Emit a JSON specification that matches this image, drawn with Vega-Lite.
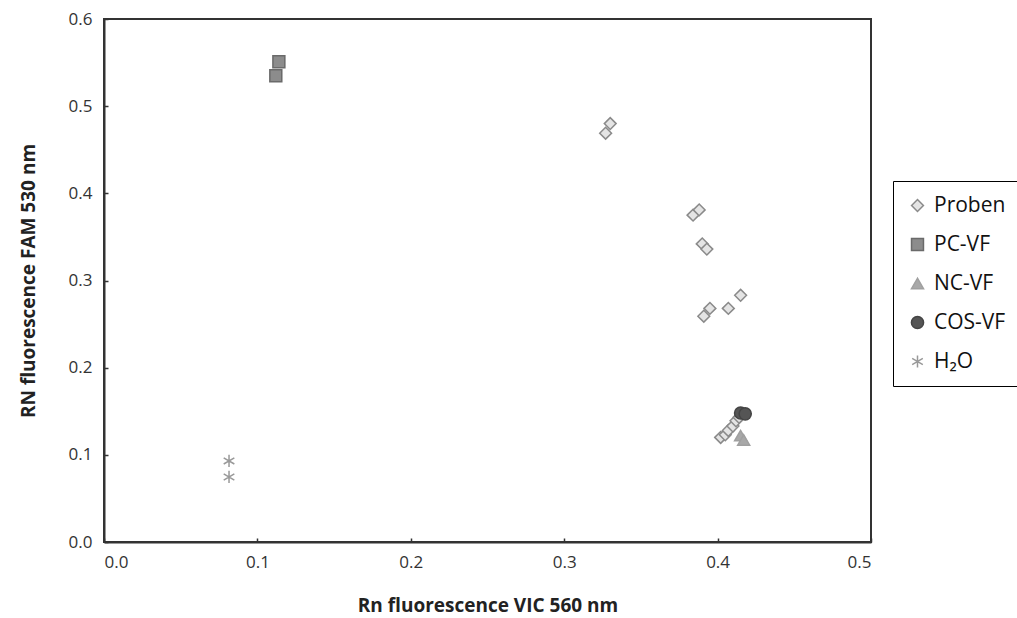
{
  "$schema": "https://vega.github.io/schema/vega-lite/v6.json",
  "autosize": "none",
  "width": 767,
  "height": 523,
  "padding": {"left": 104, "top": 19, "right": 146, "bottom": 76},
  "background": "white",
  "config": {
    "view": {"stroke": "#333333", "strokeWidth": 2},
    "font": "Open Sans"
  },
  "data": {
    "values": [
      {"series": "PC-VF", "vic": 0.114, "fam": 0.551},
      {"series": "PC-VF", "vic": 0.112, "fam": 0.535},
      {"series": "H₂O", "vic": 0.0815, "fam": 0.093},
      {"series": "H₂O", "vic": 0.0815, "fam": 0.0746},
      {"series": "Proben", "vic": 0.327, "fam": 0.469},
      {"series": "Proben", "vic": 0.330, "fam": 0.480},
      {"series": "Proben", "vic": 0.384, "fam": 0.375},
      {"series": "Proben", "vic": 0.388, "fam": 0.381},
      {"series": "Proben", "vic": 0.390, "fam": 0.342},
      {"series": "Proben", "vic": 0.393, "fam": 0.336},
      {"series": "Proben", "vic": 0.391, "fam": 0.259},
      {"series": "Proben", "vic": 0.395, "fam": 0.268},
      {"series": "Proben", "vic": 0.407, "fam": 0.268},
      {"series": "Proben", "vic": 0.415, "fam": 0.283},
      {"series": "Proben", "vic": 0.402, "fam": 0.120},
      {"series": "Proben", "vic": 0.405, "fam": 0.123},
      {"series": "Proben", "vic": 0.407, "fam": 0.128},
      {"series": "Proben", "vic": 0.410, "fam": 0.133},
      {"series": "Proben", "vic": 0.412, "fam": 0.139},
      {"series": "Proben", "vic": 0.414, "fam": 0.143},
      {"series": "COS-VF", "vic": 0.415, "fam": 0.148},
      {"series": "COS-VF", "vic": 0.418, "fam": 0.147},
      {"series": "NC-VF", "vic": 0.415, "fam": 0.122},
      {"series": "NC-VF", "vic": 0.417, "fam": 0.117}
    ]
  },
  "mark": {"type": "point", "filled": false, "strokeWidth": 1.5, "opacity": 1},
  "encoding": {
    "x": {
      "field": "vic", "type": "quantitative",
      "scale": {"domain": [0, 0.5], "nice": false, "zero": true},
      "axis": {
        "title": "Rn fluorescence VIC 560 nm",
        "titleFont": "Open Sans", "titleFontSize": 19, "titleFontWeight": "bold", "titleColor": "#222",
        "titlePadding": 26,
        "values": [0, 0.1, 0.2, 0.3, 0.4, 0.5], "format": ".1f",
        "labelFontSize": 17, "labelColor": "#333", "labelPadding": 16, "labelFont": "Open Sans",
        "grid": false, "domainColor": "#333", "domainWidth": 2,
        "tickSize": -4, "tickColor": "#333", "tickWidth": 1.5
      }
    },
    "y": {
      "field": "fam", "type": "quantitative",
      "scale": {"domain": [0, 0.6], "nice": false},
      "axis": {
        "title": "RN fluorescence FAM 530 nm",
        "titleFont": "Open Sans", "titleFontSize": 19, "titleFontWeight": "bold", "titleColor": "#222",
        "titlePadding": 30,
        "values": [0, 0.1, 0.2, 0.3, 0.4, 0.5, 0.6], "format": ".1f",
        "labelFontSize": 17, "labelColor": "#333", "labelPadding": 16, "labelFont": "Open Sans",
        "grid": false, "domainColor": "#333", "domainWidth": 2,
        "tickSize": -4, "tickColor": "#333", "tickWidth": 1.5
      }
    },
    "size": {
      "field": "series", "type": "nominal",
      "scale": {
        "domain": ["Proben", "PC-VF", "NC-VF", "COS-VF", "H₂O"],
        "range": [140, 150, 100, 70, 170]
      }
    },
    "shape": {
      "field": "series", "type": "nominal",
      "scale": {
        "domain": ["Proben", "PC-VF", "NC-VF", "COS-VF", "H₂O"],
        "range": ["diamond", "square", "triangle-up", "circle", "M0,-1L0,1M-0.87,-0.5L0.87,0.5M-0.87,0.5L0.87,-0.5"]
      },
      "legend": {
        "title": null, "orient": "none", "legendX": 789, "legendY": 162,
        "strokeColor": "black", "padding": 14, "rowPadding": 17,
        "labelFontSize": 21, "labelFont": "Open Sans", "labelColor": "#111",
        "symbolStrokeWidth": 1.5, "labelOffset": 6
      }
    },
    "fill": {
      "field": "series", "type": "nominal",
      "scale": {
        "domain": ["Proben", "PC-VF", "NC-VF", "COS-VF", "H₂O"],
        "range": ["#e4e4e4", "#8c8c8c", "#a8a8a8", "#555555", "#ffffff"]
      }
    },
    "stroke": {
      "field": "series", "type": "nominal",
      "scale": {
        "domain": ["Proben", "PC-VF", "NC-VF", "COS-VF", "H₂O"],
        "range": ["#8a8a8a", "#6a6a6a", "#a0a0a0", "#444444", "#999999"]
      }
    }
  }
}
